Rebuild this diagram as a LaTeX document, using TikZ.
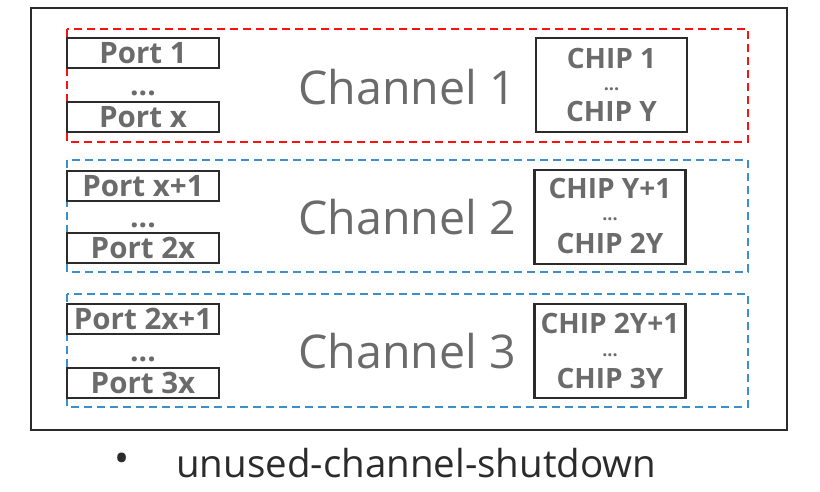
\documentclass[tikz,border=0pt]{standalone}
\usepackage{fontspec}
\setmainfont{Open Sans}
\definecolor{lbl}{HTML}{6B6B6B}
\definecolor{frm}{HTML}{2B2B2B}
\definecolor{redd}{HTML}{FF1010}
\definecolor{blued}{HTML}{3A8FCC}
\tikzset{
  frame/.style={draw=frm, line width=1.8pt},
  chanred/.style={draw=redd, line width=1.8pt, dash pattern=on 8pt off 5pt},
  chanblue/.style={draw=blued, line width=1.8pt, dash pattern=on 8pt off 5pt},
  portbox/.style={draw=frm, line width=2.2pt, minimum width=152pt, minimum height=30pt, inner sep=0pt, text=lbl, font=\fontsize{29.5}{29.5}\selectfont\bfseries, text height=21pt, text depth=0pt},
  dotsnode/.style={text=lbl, font=\fontsize{30}{30}\selectfont\bfseries, inner sep=0pt, text height=4.5pt, text depth=0pt},
  chanlbl/.style={text=lbl, font=\fontsize{46.5}{46.5}\selectfont, inner sep=0pt},
  chipbox/.style={draw=frm, line width=2.2pt, minimum width=151pt, minimum height=94pt, inner sep=0pt},
  chiptxt/.style={text=lbl, font=\fontsize{28}{28}\selectfont\bfseries, inner sep=0pt, text height=20pt, text depth=0pt},
  chipdots/.style={text=lbl, font=\fontsize{18}{18}\selectfont\bfseries, inner sep=0pt, text height=3pt, text depth=0pt},
}
\begin{document}
\begin{tikzpicture}[x=1pt,y=-1pt]
\useasboundingbox (0,0) rectangle (820,491);
\draw[frame] (31,8) rectangle (787,430);
% channel boxes
\draw[chanred] (67,29) rectangle (748,142);
\draw[chanblue] (67,160) rectangle (748,272);
\draw[chanblue] (67,294) rectangle (748,407);
% channel 1
\node[portbox] (p1) at (143,53) {Port 1};
\node[dotsnode] (d1) at (143,93) {...};
\node[portbox] (px) at (143,117) {Port x};
\node[chanlbl] (c1) at (407,87) {Channel 1};
\node[chipbox] (k1) at (611.5,85) {};
\node[chiptxt] (k1a) at (611.5,58) {CHIP 1};
\node[chipdots] (k1b) at (611.5,89) {...};
\node[chiptxt] (k1c) at (611.5,111) {CHIP Y};
% channel 2
\node[portbox] (p2a) at (143,186) {Port x+1};
\node[dotsnode] (d2) at (143,225) {...};
\node[portbox] (p2b) at (143,248) {Port 2x};
\node[chanlbl] (c2) at (407,217) {Channel 2};
\node[chipbox] (k2) at (610,217) {};
\node[chiptxt] (k2a) at (610,188) {CHIP Y+1};
\node[chipdots] (k2b) at (610,219) {...};
\node[chiptxt] (k2c) at (610,243) {CHIP 2Y};
% channel 3
\node[portbox] (p3a) at (143,319) {Port 2x+1};
\node[dotsnode] (d3) at (143,359) {...};
\node[portbox] (p3b) at (143,383) {Port 3x};
\node[chanlbl] (c3) at (407,351) {Channel 3};
\node[chipbox] (k3) at (610,351) {};
\node[chiptxt] (k3a) at (610,323) {CHIP 2Y+1};
\node[chipdots] (k3b) at (610,355) {...};
\node[chiptxt] (k3c) at (610,378) {CHIP 3Y};
% bottom
\node[text=frm, font=\fontsize{40}{40}\selectfont, inner sep=0pt] (bul) at (122,463) {•};
\node[text=frm, font=\fontsize{38.5}{38.5}\selectfont, inner sep=0pt, anchor=west] (cap) at (176,463) {unused-channel-shutdown};
\end{tikzpicture}
\end{document}
